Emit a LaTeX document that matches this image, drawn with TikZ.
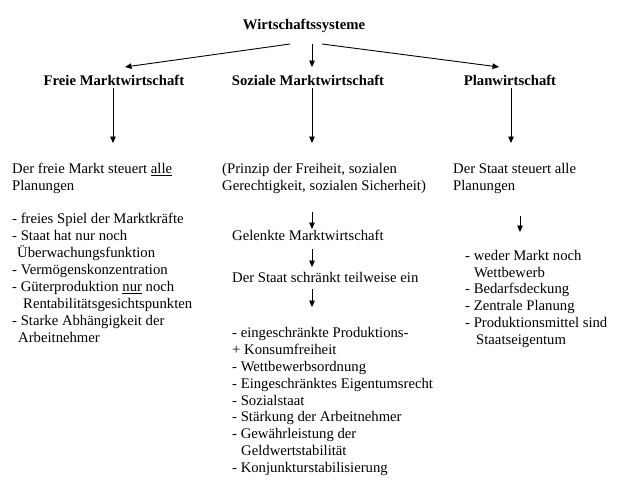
\documentclass[tikz,border=0pt]{standalone}
\usepackage{fontspec}
\setmainfont{Liberation Serif}
\usetikzlibrary{arrows.meta}
\newcommand{\myul}[1]{\setbox0\hbox{#1}\rlap{\rule[-2.4pt]{\wd0}{0.9pt}}\box0\relax}
\begin{document}
\begin{tikzpicture}[x=1pt,y=-1pt,
  txt/.style={anchor=base west,inner sep=0pt,font=\fontsize{14.7}{17}\selectfont},
  ttl/.style={anchor=base,inner sep=0pt,font=\fontsize{14.7}{17}\selectfont\bfseries},
  arr/.style={-{Triangle[length=6.5pt,width=5.5pt]},line width=0.9pt}]
\fill[white] (0,0) rectangle (627,480);
\useasboundingbox (0,0) rectangle (627,480);
% titles
\node[ttl] (root) at (304,29) {Wirtschaftssysteme};
\node[ttl] (fm) at (114,85) {Freie Marktwirtschaft};
\node[ttl] (sm) at (308,85) {Soziale Marktwirtschaft};
\node[ttl] (pw) at (510,85) {Planwirtschaft};
% arrow points
\coordinate (t1s) at (290,44); \coordinate (t1e) at (125,67);
\coordinate (t2s) at (312,44); \coordinate (t2e) at (312,67);
\coordinate (t3s) at (322,44); \coordinate (t3e) at (499,67);
\coordinate (d1s) at (113,88); \coordinate (d1e) at (113,143);
\coordinate (d2s) at (312,88); \coordinate (d2e) at (312,143);
\coordinate (d3s) at (511,88); \coordinate (d3e) at (511,143);
\coordinate (m1s) at (312,212); \coordinate (m1e) at (312,229);
\coordinate (m2s) at (312,249); \coordinate (m2e) at (312,267);
\coordinate (m3s) at (312,289); \coordinate (m3e) at (312,307);
\coordinate (r1s) at (520,216); \coordinate (r1e) at (520,232);
\draw[arr] (t1s) -- (t1e);
\draw[arr] (t2s) -- (t2e);
\draw[arr] (t3s) -- (t3e);
\draw[arr] (d1s) -- (d1e);
\draw[arr] (d2s) -- (d2e);
\draw[arr] (d3s) -- (d3e);
\draw[arr] (m1s) -- (m1e);
\draw[arr] (m2s) -- (m2e);
\draw[arr] (m3s) -- (m3e);
\draw[arr] (r1s) -- (r1e);
% left column
\node[txt] (l1) at (12,173) {Der freie Markt steuert \myul{alle}};
\node[txt] (l2) at (12,190) {Planungen};
\node[txt] (l3) at (12,223) {- freies Spiel der Marktkräfte};
\node[txt] (l4) at (12,240) {- Staat hat nur noch};
\node[txt] (l5) at (17,257) {Überwachungsfunktion};
\node[txt] (l6) at (12,274) {- Vermögenskonzentration};
\node[txt] (l7) at (12,291) {- Güterproduktion \myul{nur} noch};
\node[txt] (l8) at (23,308) {Rentabilitätsgesichtspunkten};
\node[txt] (l9) at (12,325) {- Starke Abhängigkeit der};
\node[txt] (l10) at (18,342) {Arbeitnehmer};
% middle column
\node[txt] (m1) at (222,173) {(Prinzip der Freiheit, sozialen};
\node[txt] (m2) at (222,190) {Gerechtigkeit, sozialen Sicherheit)};
\node[txt] (m3) at (232,240) {Gelenkte Marktwirtschaft};
\node[txt] (m4) at (232,282) {Der Staat schränkt teilweise ein};
\node[txt] (m5) at (232,337) {- eingeschränkte Produktions-};
\node[txt] (m6) at (232,354) {+ Konsumfreiheit};
\node[txt] (m7) at (232,371) {- Wettbewerbsordnung};
\node[txt] (m8) at (232,388) {- Eingeschränktes Eigentumsrecht};
\node[txt] (m9) at (232,405) {- Sozialstaat};
\node[txt] (m10) at (232,421.5) {- Stärkung der Arbeitnehmer};
\node[txt] (m11) at (232,438) {- Gewährleistung der};
\node[txt] (m12) at (241,455) {Geldwertstabilität};
\node[txt] (m13) at (232,472) {- Konjunkturstabilisierung};
% right column
\node[txt] (r1) at (453,173) {Der Staat steuert alle};
\node[txt] (r2) at (453,190) {Planungen};
\node[txt] (r3) at (465,260) {- weder Markt noch};
\node[txt] (r4) at (474,277) {Wettbewerb};
\node[txt] (r5) at (465,293.5) {- Bedarfsdeckung};
\node[txt] (r6) at (465,310) {- Zentrale Planung};
\node[txt] (r7) at (465,327) {- Produktionsmittel sind};
\node[txt] (r8) at (476,344) {Staatseigentum};
\end{tikzpicture}
\end{document}
